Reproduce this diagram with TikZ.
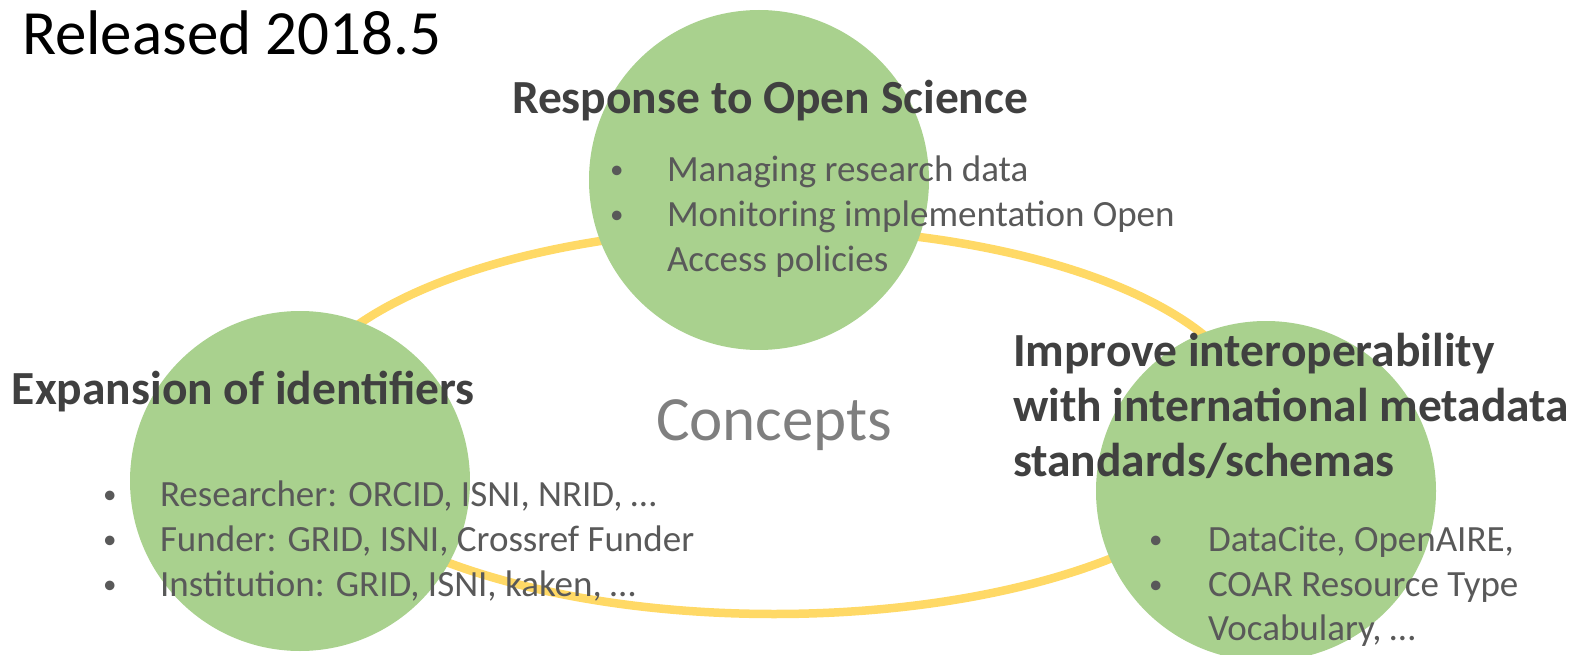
\documentclass[tikz,border=0pt]{standalone}
\usepackage{fontspec}
\setmainfont{Carlito}
\usetikzlibrary{shapes.geometric}
\definecolor{ringyellow}{HTML}{FFD966}
\definecolor{bubblegreen}{HTML}{A9D18E}
\definecolor{titlegray}{HTML}{404040}
\definecolor{bodygray}{HTML}{595959}
\definecolor{conceptgray}{HTML}{7F7F7F}
\tikzset{
  bubble/.style={circle, fill=bubblegreen, draw=none, minimum size=340pt, inner sep=0pt},
  ringstyle/.style={ellipse, draw=ringyellow, line width=8.5pt, minimum width=960pt, minimum height=386pt, inner sep=0pt},
  txt/.style={anchor=base west, inner sep=0pt, outer sep=0pt},
  headtxt/.style={txt, text=titlegray, font=\fontsize{47.5}{57}\bfseries\selectfont},
  bodytxt/.style={txt, text=bodygray, font=\fontsize{37}{44}\selectfont},
  bullettxt/.style={txt, text=bodygray, font=\fontsize{27}{32}\selectfont, yshift=3pt},
  bigtxt/.style={txt, font=\fontsize{63}{75}\selectfont},
}
\begin{document}
\begin{tikzpicture}[x=1pt, y=-1pt]
\useasboundingbox (0,0) rectangle (1583,655);
\node[ringstyle] (ring) at (774,421) {};
\node[bubble] (topc) at (759,180) {};
\node[bubble] (leftc) at (300,481) {};
\node[bubble] (rightc) at (1266,491) {};
% title
\node[bigtxt, text=black] (rel) at (22,55) {Released 2018.5};
\node[bigtxt, text=conceptgray] (concepts) at (656,440) {Concepts};
% top
\node[headtxt] (toph) at (512,114) {Response to Open Science};
\node[bullettxt] (topb1) at (610,182) {•};
\node[bodytxt] (topt1) at (667,182) {Managing research data};
\node[bullettxt] (topb2) at (610,227) {•};
\node[bodytxt] (topt2) at (667,227) {Monitoring implementation Open};
\node[bodytxt] (topt3) at (667,272) {Access policies};
% left
\node[headtxt] (lefth) at (12,404) {Expansion of identifiers};
\node[bullettxt] (leftb1) at (103,506) {•};
\node[bodytxt] (leftt1) at (160,506) {Researcher: ORCID, ISNI, NRID, …};
\node[bullettxt] (leftb2) at (103,551) {•};
\node[bodytxt] (leftt2) at (160,551) {Funder: GRID, ISNI, Crossref Funder};
\node[bullettxt] (leftb3) at (103,596) {•};
\node[bodytxt] (leftt3) at (160,596) {Institution: GRID, ISNI, kaken, …};
% right
\node[headtxt] (righth1) at (1013,366) {Improve interoperability};
\node[headtxt] (righth2) at (1013,421) {with international metadata};
\node[headtxt] (righth3) at (1013,476) {standards/schemas};
\node[bullettxt] (rightb1) at (1149,551) {•};
\node[bodytxt] (rightt1) at (1208,551) {DataCite, OpenAIRE,};
\node[bullettxt] (rightb2) at (1149,596) {•};
\node[bodytxt] (rightt2) at (1208,596) {COAR Resource Type};
\node[bodytxt] (rightt3) at (1208,640) {Vocabulary, …};
\end{tikzpicture}
\end{document}
